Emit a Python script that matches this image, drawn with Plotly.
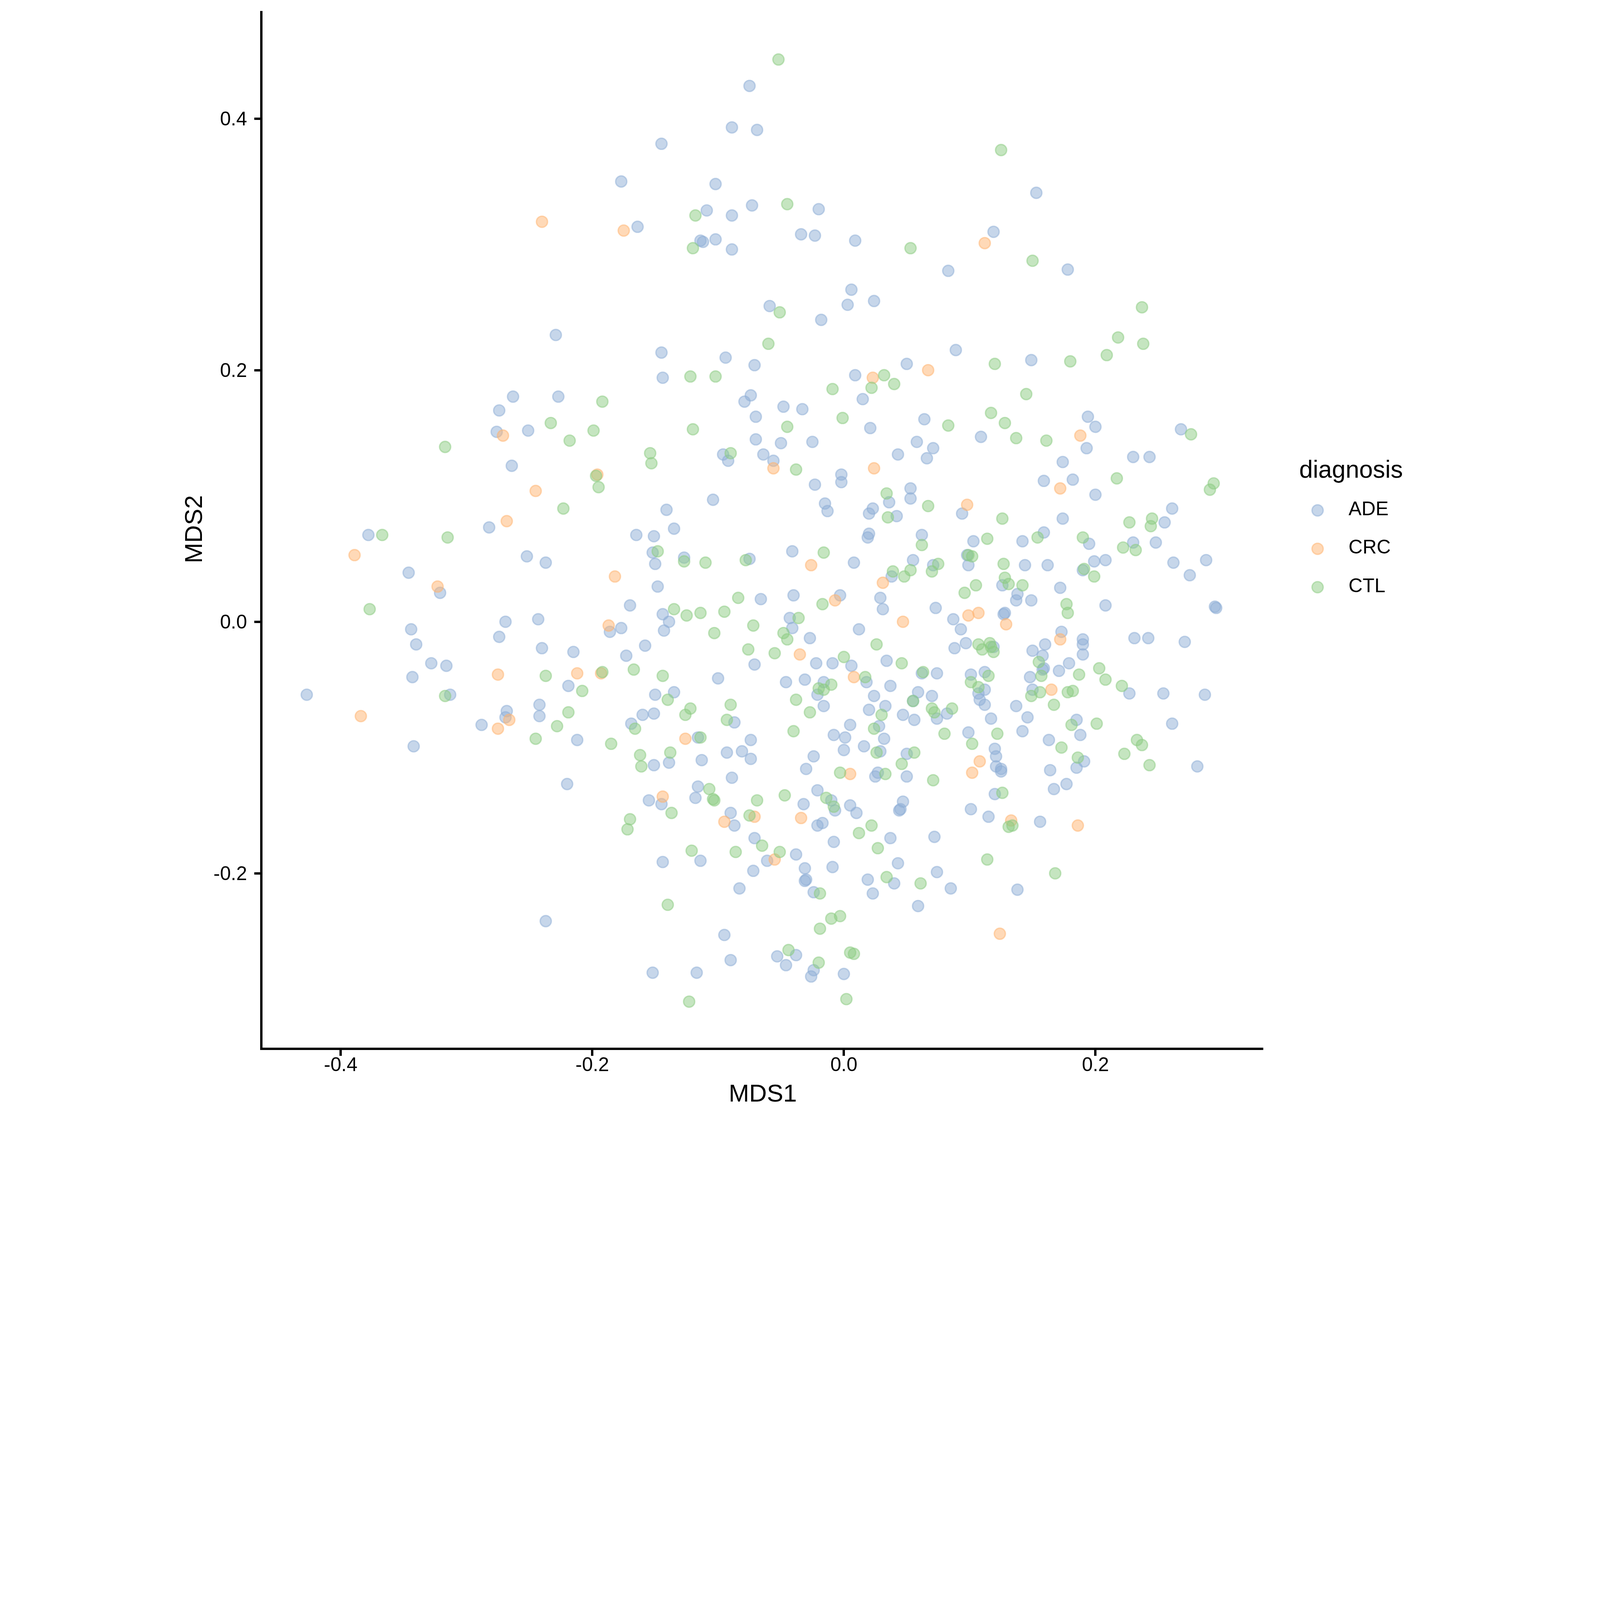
import plotly.graph_objects as go

# MDS ordination, one pair of lists per diagnosis group
ade_mds1 = [
    -0.229, -0.263, -0.227, -0.274, -0.276, -0.251, -0.264, -0.282,
    -0.075, -0.089, -0.069, -0.145, -0.177, -0.102, -0.073, -0.020, -0.109, -0.089,
    -0.164, -0.034, -0.023, -0.114, -0.112, -0.102, -0.089, 0.009, 0.006, 0.024,
    -0.059, 0.003, -0.018, -0.145, -0.094, -0.071, -0.144, 0.050, 0.009, 0.015,
    -0.074, -0.079, -0.048, -0.033, -0.070, 0.064, 0.021, -0.070, -0.050, -0.025,
    0.058, 0.043, 0.071, 0.066, -0.096, -0.092, -0.064, -0.056, -0.002, -0.002,
    -0.023, 0.053, 0.053, 0.036, 0.023, 0.020, 0.042, -0.015, -0.013, -0.104,
    -0.141, -0.135,
    0.153, 0.119, 0.083, 0.178, 0.089, 0.149, 0.109, 0.194, 0.200, 0.193,
    0.268, 0.174, 0.230, 0.243, 0.159, 0.182, 0.200, 0.094, 0.174, 0.261, 0.255,
    -0.378, -0.252, -0.237, -0.346, -0.321, -0.344, -0.340, -0.328, -0.316, -0.343,
    -0.427, -0.313, -0.342, -0.269, -0.274, -0.243, -0.240, -0.215, -0.219, -0.242,
    -0.242, -0.268, -0.269, -0.288, -0.212, -0.220, -0.237,
    -0.165, -0.151, -0.152, -0.150, -0.127, -0.075, -0.041, 0.008, 0.020, 0.019,
    0.062, 0.055, 0.038, -0.148, -0.003, 0.029, 0.031, -0.040, -0.066, -0.170,
    -0.144, -0.139, -0.143, -0.186, -0.177, -0.043, -0.041, -0.027, 0.012, -0.158,
    -0.173, -0.071, -0.022, -0.009, 0.006, 0.034, 0.062, -0.100, -0.046, -0.031,
    0.018, 0.037, -0.016, -0.021, -0.016, -0.150, -0.135, -0.160, -0.151, -0.169,
    -0.087, 0.024, 0.033, 0.020, 0.059, 0.055, 0.047, 0.056, 0.005, -0.008,
    0.001, 0.000, 0.028, 0.032, 0.016, 0.029, 0.050, 0.027, 0.025, 0.050,
    -0.024, -0.030, -0.116, -0.074, -0.093, -0.081, -0.074, -0.113, -0.139, -0.151,
    -0.089, -0.116, -0.118, -0.155, -0.145, -0.032, -0.021, -0.010, -0.007, 0.005,
    0.010, 0.047, 0.044, 0.045, -0.090, -0.087, -0.021, -0.017, 0.037, -0.071,
    -0.008, -0.144, -0.114, -0.061, -0.038, -0.031, -0.072, -0.009, 0.043, -0.030,
    -0.031, 0.019, 0.040, -0.083, -0.024, 0.023, 0.059, -0.095, -0.053, -0.038,
    -0.046, -0.090, -0.152, -0.117, -0.024, -0.026, 0.000,
    0.159, 0.103, 0.142, 0.195, 0.230, 0.248, 0.098, 0.099, 0.071, 0.144,
    0.162, 0.199, 0.208, 0.190, 0.262, 0.275, 0.288, 0.126, 0.138, 0.137,
    0.149, 0.172, 0.073, 0.127, 0.128, 0.208, 0.295, 0.296, 0.087, 0.093,
    0.097, 0.088, 0.119, 0.173, 0.160, 0.150, 0.158, 0.190, 0.190, 0.190,
    0.231, 0.242, 0.271, 0.074, 0.101, 0.112, 0.107, 0.112, 0.108, 0.112,
    0.070, 0.074, 0.082, 0.158, 0.159, 0.148, 0.171, 0.179, 0.227, 0.254,
    0.287, 0.150, 0.137, 0.117, 0.146, 0.142, 0.185, 0.188, 0.261, 0.099,
    0.163, 0.281, 0.120, 0.121, 0.121, 0.125, 0.125, 0.191, 0.185, 0.164,
    0.167, 0.177, 0.120, 0.101, 0.115, 0.156, 0.072, 0.074, 0.085, 0.138,
]
ade_mds2 = [
    0.228, 0.179, 0.179, 0.168, 0.151, 0.152, 0.124, 0.075,
    0.426, 0.393, 0.391, 0.380, 0.350, 0.348, 0.331, 0.328, 0.327, 0.323,
    0.314, 0.308, 0.307, 0.303, 0.302, 0.304, 0.296, 0.303, 0.264, 0.255,
    0.251, 0.252, 0.240, 0.214, 0.210, 0.204, 0.194, 0.205, 0.196, 0.177,
    0.180, 0.175, 0.171, 0.169, 0.163, 0.161, 0.154, 0.145, 0.142, 0.143,
    0.143, 0.133, 0.138, 0.130, 0.133, 0.128, 0.133, 0.128, 0.117, 0.111,
    0.109, 0.106, 0.098, 0.095, 0.090, 0.086, 0.084, 0.094, 0.088, 0.097,
    0.089, 0.074,
    0.341, 0.310, 0.279, 0.280, 0.216, 0.208, 0.147, 0.163, 0.155, 0.138,
    0.153, 0.127, 0.131, 0.131, 0.112, 0.113, 0.101, 0.086, 0.082, 0.090, 0.079,
    0.069, 0.052, 0.047, 0.039, 0.023, -0.006, -0.018, -0.033, -0.035, -0.044,
    -0.058, -0.058, -0.099, 0.000, -0.012, 0.002, -0.021, -0.024, -0.051, -0.066,
    -0.075, -0.071, -0.076, -0.082, -0.094, -0.129, -0.238,
    0.069, 0.068, 0.055, 0.046, 0.051, 0.050, 0.056, 0.047, 0.070, 0.067,
    0.069, 0.049, 0.036, 0.028, 0.021, 0.019, 0.010, 0.021, 0.018, 0.013,
    0.006, 0.000, -0.007, -0.008, -0.005, 0.003, -0.005, -0.013, -0.006, -0.019,
    -0.027, -0.034, -0.033, -0.033, -0.035, -0.031, -0.041, -0.045, -0.048, -0.046,
    -0.048, -0.051, -0.048, -0.058, -0.067, -0.058, -0.056, -0.074, -0.073, -0.081,
    -0.080, -0.059, -0.067, -0.070, -0.056, -0.063, -0.074, -0.078, -0.082, -0.090,
    -0.092, -0.102, -0.083, -0.093, -0.099, -0.103, -0.105, -0.120, -0.123, -0.123,
    -0.107, -0.117, -0.092, -0.094, -0.104, -0.103, -0.109, -0.110, -0.112, -0.114,
    -0.124, -0.131, -0.140, -0.142, -0.145, -0.145, -0.134, -0.142, -0.150, -0.146,
    -0.152, -0.143, -0.150, -0.149, -0.152, -0.162, -0.162, -0.160, -0.172, -0.172,
    -0.175, -0.191, -0.190, -0.190, -0.185, -0.196, -0.198, -0.195, -0.192, -0.205,
    -0.206, -0.205, -0.208, -0.212, -0.215, -0.216, -0.226, -0.249, -0.266, -0.265,
    -0.273, -0.269, -0.279, -0.279, -0.277, -0.282, -0.280,
    0.071, 0.064, 0.064, 0.062, 0.063, 0.063, 0.053, 0.045, 0.045, 0.045,
    0.045, 0.048, 0.049, 0.041, 0.047, 0.037, 0.049, 0.029, 0.022, 0.017,
    0.017, 0.027, 0.011, 0.006, 0.007, 0.013, 0.012, 0.011, 0.002, -0.006,
    -0.017, -0.021, -0.020, -0.008, -0.018, -0.023, -0.027, -0.014, -0.018, -0.026,
    -0.013, -0.013, -0.016, -0.041, -0.042, -0.040, -0.057, -0.054, -0.062, -0.066,
    -0.059, -0.077, -0.073, -0.038, -0.037, -0.044, -0.039, -0.033, -0.057, -0.057,
    -0.058, -0.054, -0.067, -0.077, -0.076, -0.087, -0.078, -0.090, -0.081, -0.088,
    -0.094, -0.115, -0.101, -0.107, -0.115, -0.117, -0.119, -0.111, -0.116, -0.118,
    -0.133, -0.129, -0.137, -0.149, -0.155, -0.159, -0.171, -0.199, -0.212, -0.213,
]

crc_mds1 = [
    -0.240, -0.271, -0.196, -0.245, -0.268, -0.175, 0.067, 0.023, -0.056, 0.024,
    0.112, 0.188, 0.172, 0.098, -0.389, -0.323, -0.384, -0.275, -0.212, -0.266, -0.275,
    -0.026, -0.182, 0.031, -0.007, 0.047, -0.187, -0.035, -0.193, 0.008, 0.005,
    -0.126, -0.144, -0.071, -0.095, -0.034, -0.055,
    0.099, 0.107, 0.129, 0.172, 0.165, 0.108, 0.102, 0.133, 0.186, 0.124,
]
crc_mds2 = [
    0.318, 0.148, 0.117, 0.104, 0.080, 0.311, 0.200, 0.194, 0.122, 0.122,
    0.301, 0.148, 0.106, 0.093, 0.053, 0.028, -0.075, -0.042, -0.041, -0.078, -0.085,
    0.045, 0.036, 0.031, 0.017, 0.000, -0.003, -0.026, -0.041, -0.044, -0.121,
    -0.093, -0.139, -0.155, -0.159, -0.156, -0.189,
    0.005, 0.007, -0.002, -0.014, -0.054, -0.111, -0.120, -0.158, -0.162, -0.248,
]

ctl_mds1 = [
    -0.233, -0.218, -0.199, -0.317, -0.197, -0.195, -0.223,
    -0.052, -0.045, -0.118, -0.120, 0.053, -0.051, -0.060, -0.122, -0.102, -0.192,
    0.032, 0.040, 0.022, -0.009, -0.001, -0.120, -0.045, -0.154, -0.153, -0.090,
    -0.038, 0.034, 0.035, 0.067,
    0.125, 0.150, 0.237, 0.218, 0.238, 0.209, 0.120, 0.180, 0.145, 0.117,
    0.083, 0.128, 0.137, 0.161, 0.276, 0.217, 0.294, 0.291, 0.126, 0.227,
    0.245, 0.244,
    -0.367, -0.315, -0.377, -0.317, -0.237, -0.208, -0.219, -0.228, -0.245,
    -0.148, -0.127, -0.110, -0.078, -0.016, 0.062, 0.039, 0.048, 0.053, -0.017,
    -0.084, -0.135, -0.125, -0.114, -0.095, -0.103, -0.072, -0.036, -0.048, -0.045,
    0.026, -0.076, -0.055, 0.000, 0.046, 0.063, -0.192, -0.167, -0.144, 0.017,
    -0.020, -0.016, -0.010, -0.038, -0.027, -0.140, -0.122, -0.126, -0.090, -0.166,
    -0.093, 0.030, 0.055, 0.024, 0.026, 0.056, 0.046, 0.033, -0.040, -0.003,
    -0.114, -0.185, -0.138, -0.162, -0.161, -0.107, -0.104, -0.103, -0.137, -0.170,
    -0.172, -0.069, -0.047, -0.014, -0.008, -0.075, 0.022, 0.012, -0.065, 0.027,
    -0.121, -0.086, -0.051, 0.034, 0.061, -0.019, -0.140, -0.010, -0.003, -0.019,
    -0.044, -0.020, 0.005, 0.008, -0.123, 0.002,
    0.154, 0.114, 0.190, 0.222, 0.232, 0.099, 0.102, 0.075, 0.070, 0.127,
    0.191, 0.199, 0.128, 0.131, 0.142, 0.105, 0.096, 0.177, 0.178, 0.107,
    0.110, 0.116, 0.117, 0.119, 0.155, 0.115, 0.101, 0.107, 0.070, 0.072,
    0.086, 0.157, 0.187, 0.203, 0.208, 0.221, 0.149, 0.156, 0.178, 0.182,
    0.167, 0.181, 0.201, 0.080, 0.122, 0.102, 0.173, 0.233, 0.237, 0.223,
    0.243, 0.186, 0.071, 0.126, 0.131, 0.134, 0.114, 0.168,
]
ctl_mds2 = [
    0.158, 0.144, 0.152, 0.139, 0.116, 0.107, 0.090,
    0.447, 0.332, 0.323, 0.297, 0.297, 0.246, 0.221, 0.195, 0.195, 0.175,
    0.196, 0.189, 0.186, 0.185, 0.162, 0.153, 0.155, 0.134, 0.126, 0.134,
    0.121, 0.102, 0.083, 0.092,
    0.375, 0.287, 0.250, 0.226, 0.221, 0.212, 0.205, 0.207, 0.181, 0.166,
    0.156, 0.158, 0.146, 0.144, 0.149, 0.114, 0.110, 0.105, 0.082, 0.079,
    0.082, 0.076,
    0.069, 0.067, 0.010, -0.059, -0.043, -0.055, -0.072, -0.083, -0.093,
    0.056, 0.048, 0.047, 0.049, 0.055, 0.061, 0.040, 0.036, 0.041, 0.014,
    0.019, 0.010, 0.005, 0.007, 0.008, -0.009, -0.003, 0.003, -0.009, -0.014,
    -0.018, -0.022, -0.025, -0.028, -0.033, -0.040, -0.040, -0.038, -0.043, -0.044,
    -0.053, -0.054, -0.050, -0.062, -0.072, -0.062, -0.069, -0.074, -0.066, -0.085,
    -0.078, -0.074, -0.063, -0.085, -0.104, -0.104, -0.113, -0.121, -0.087, -0.120,
    -0.092, -0.097, -0.104, -0.106, -0.115, -0.133, -0.141, -0.142, -0.152, -0.157,
    -0.165, -0.142, -0.138, -0.140, -0.147, -0.154, -0.162, -0.168, -0.178, -0.180,
    -0.182, -0.183, -0.183, -0.203, -0.208, -0.216, -0.225, -0.236, -0.234, -0.244,
    -0.261, -0.271, -0.263, -0.264, -0.302, -0.300,
    0.067, 0.066, 0.067, 0.059, 0.057, 0.053, 0.052, 0.046, 0.040, 0.046,
    0.042, 0.036, 0.035, 0.030, 0.029, 0.029, 0.023, 0.014, 0.007, -0.018,
    -0.022, -0.017, -0.020, -0.024, -0.032, -0.043, -0.048, -0.052, -0.069, -0.072,
    -0.069, -0.043, -0.042, -0.037, -0.046, -0.051, -0.059, -0.056, -0.056, -0.055,
    -0.066, -0.082, -0.081, -0.089, -0.089, -0.097, -0.100, -0.094, -0.098, -0.105,
    -0.114, -0.108, -0.126, -0.136, -0.163, -0.162, -0.189, -0.200,
]

diagnosis = ["ADE", "CRC", "CTL"]
colors = {
    "ADE": "rgba(141,173,213,0.5)",
    "CRC": "rgba(255,179,111,0.5)",
    "CTL": "rgba(139,203,129,0.5)",
}
x_ticks = [-0.4, -0.2, 0.0, 0.2]
x_ticktext = ["-0.4", "-0.2", "0.0", "0.2"]
y_ticks = [-0.2, 0.0, 0.2, 0.4]
y_ticktext = ["-0.2", "0.0", "0.2", "0.4"]

FONT = "Liberation Sans, Arial, Helvetica, sans-serif"
W, H = 6000, 4200
ML, MT, MB = 984, 41, 272
plot_w = W - ML
plot_h = H - MT - MB
panel_right = 4737  # right end of the x axis, px

groups = {
    "ADE": (ade_mds1, ade_mds2),
    "CRC": (crc_mds1, crc_mds2),
    "CTL": (ctl_mds1, ctl_mds2),
}

fig = go.Figure()
for name in diagnosis:
    xs, ys = groups[name]
    fig.add_trace(go.Scatter(
        x=xs, y=ys, mode="markers", name=name, showlegend=False,
        marker=dict(size=42, color=colors[name],
                    line=dict(width=5, color=colors[name])),
        xaxis="x", yaxis="y",
    ))

# legend drawn on its own small axes so the keys keep the point size
key_x, text_x = 146, 262
row_gap = 144          # px between legend rows
legend_mid = 2058      # px from top, middle row
fig.add_trace(go.Scatter(
    x=[key_x] * 3, y=diagnosis, mode="markers", showlegend=False,
    marker=dict(size=42, color=[colors[d] for d in diagnosis],
                line=dict(width=5, color=[colors[d] for d in diagnosis])),
    xaxis="x2", yaxis="y2", hoverinfo="skip",
))
fig.add_trace(go.Scatter(
    x=[text_x] * 3, y=diagnosis, mode="text", text=diagnosis,
    textposition="middle right", showlegend=False,
    textfont=dict(size=73, color="black", family=FONT),
    xaxis="x2", yaxis="y2", hoverinfo="skip", cliponaxis=False,
))

axis_common = dict(
    showgrid=False, zeroline=False, showline=True, linecolor="black",
    linewidth=9, ticks="outside", ticklen=22, tickwidth=9, tickcolor="black",
    tickfont=dict(size=73, color="black", family=FONT), automargin=False,
)

mid = (H - MB - legend_mid) / plot_h
half = 1.5 * row_gap / plot_h

fig.update_layout(
    width=W, height=H,
    margin=dict(l=ML, r=0, t=MT, b=MB, pad=0),
    paper_bgcolor="white", plot_bgcolor="white",
    font=dict(family=FONT, color="black"),
    xaxis=dict(
        axis_common, domain=[0, (panel_right - ML) / plot_w],
        range=[(ML - 3164.5) / 4717, (panel_right - 3164.5) / 4717],
        tickvals=x_ticks, ticktext=x_ticktext, anchor="y",
        ticklabelstandoff=-30,
        title=dict(text="MDS1", font=dict(size=92, family=FONT), standoff=40),
    ),
    yaxis=dict(
        axis_common, domain=[0, 1],
        range=[(2331.6 - (H - MB)) / 4717, (2331.6 - MT) / 4717],
        tickvals=y_ticks, ticktext=y_ticktext, anchor="x",
        ticklabelstandoff=12,
        title=dict(text="MDS2", font=dict(size=92, family=FONT), standoff=16),
    ),
    xaxis2=dict(domain=[(4795 - ML) / plot_w, 1.0], range=[0, W - 4795],
                visible=False, anchor="y2", fixedrange=True),
    yaxis2=dict(domain=[mid - half, mid + half],
                type="category", categoryorder="array",
                categoryarray=diagnosis[::-1], range=[-0.5, 2.5],
                visible=False, anchor="x2", fixedrange=True),
    annotations=[dict(
        text="diagnosis", xref="paper", yref="paper",
        x=(4870 - ML) / plot_w, y=(H - MB - 1759) / plot_h,
        xanchor="left", yanchor="middle", showarrow=False,
        font=dict(size=92, color="black", family=FONT),
    )],
)

# keep the whole 6000x4200 figure inside the window, whatever its css size
fit_js = """
var gd = document.getElementById('{plot_id}');
document.documentElement.style.margin = '0';
document.body.style.margin = '0';
document.body.style.overflow = 'hidden';
var s = Math.min(window.innerWidth / 6000, window.innerHeight / 4200, 1);
gd.style.transformOrigin = '0 0';
gd.style.transform = 'scale(' + s + ')';
"""

fig.write_html("out.html", post_script=fit_js,
               config={"displayModeBar": False})
